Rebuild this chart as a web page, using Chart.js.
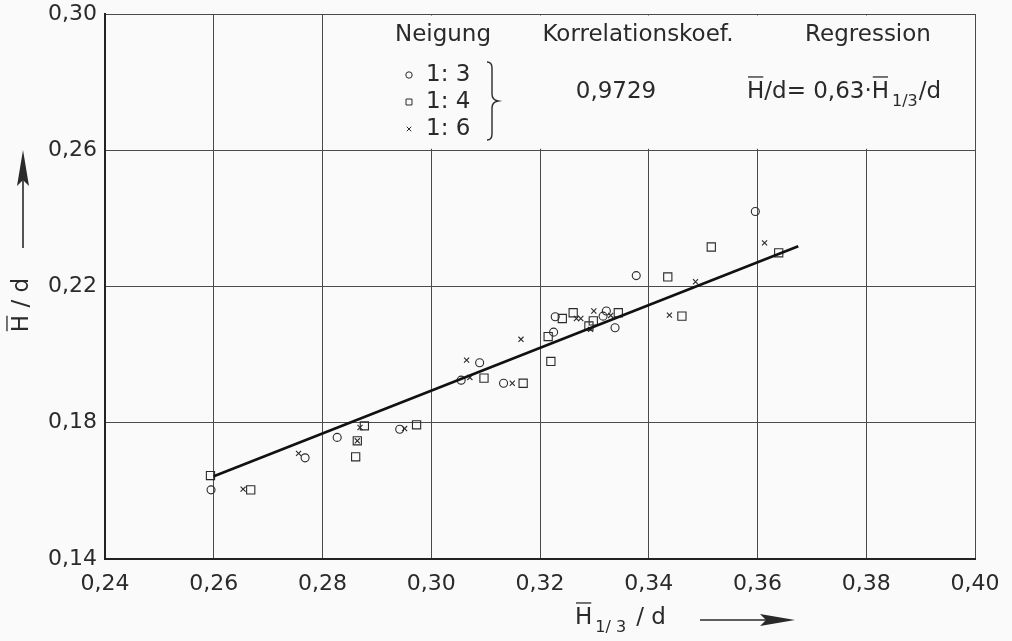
<!DOCTYPE html>
<html lang="de">
<head>
<meta charset="UTF-8">
<title>Mittlere Wellenhöhe</title>
<script src="https://cdn.jsdelivr.net/npm/chart.js"></script>
<style>
    html, body { margin: 0; padding: 0; background: #fafafa; }
    canvas { display: block; }
</style>
</head>
<body>
<canvas id="chart" width="1012" height="641"></canvas>
<script>
// Achsen
const xTicks = [0.24, 0.26, 0.28, 0.30, 0.32, 0.34, 0.36, 0.38, 0.40];
const yTicks = [0.14, 0.18, 0.22, 0.26, 0.30];

// Neigung 1:3 (Kreise)
const slope13X = [0.2595, 0.2768, 0.2827, 0.2942, 0.3055, 0.3089, 0.3133, 0.3225, 0.3228, 0.3316, 0.3322, 0.3338, 0.3377, 0.3596];
const slope13Y = [0.1603, 0.1697, 0.1757, 0.1781, 0.1925, 0.1976, 0.1916, 0.2066, 0.2111, 0.2113, 0.2128, 0.2079, 0.2232, 0.2420];

// Neigung 1:4 (Quadrate)
const slope14X = [0.2594, 0.2668, 0.2861, 0.2864, 0.2877, 0.2973, 0.3097, 0.3169, 0.3215, 0.3220, 0.3241, 0.3261, 0.3290, 0.3298, 0.3344, 0.3435, 0.3461, 0.3515, 0.3639];
const slope14Y = [0.1645, 0.1603, 0.1700, 0.1747, 0.1791, 0.1794, 0.1931, 0.1916, 0.2053, 0.1980, 0.2106, 0.2123, 0.2084, 0.2099, 0.2123, 0.2228, 0.2113, 0.2316, 0.2299];

// Neigung 1:6 (Kreuze)
const slope16X = [0.2654, 0.2756, 0.2864, 0.2869, 0.2951, 0.3065, 0.3071, 0.3149, 0.3165, 0.3267, 0.3275, 0.3293, 0.3299, 0.3330, 0.3438, 0.3486, 0.3613];
const slope16Y = [0.1605, 0.1710, 0.1747, 0.1786, 0.1783, 0.1984, 0.1933, 0.1916, 0.2045, 0.2106, 0.2106, 0.2074, 0.2128, 0.2115, 0.2116, 0.2214, 0.2328];

const regX = [0.260, 0.3675];
const regY = [0.1643, 0.2318];

const legendLabels = ['1: 3', '1: 4', '1: 6'];
const legendStyles = ['circle', 'rect', 'crossRot'];
const correlation = '0,9729';

const FONT = '"DejaVu Sans", sans-serif';
const INK = '#2a2a2a';
const PAPER = '#fafafa';

const toPoints = (xs, ys) => xs.map((x, i) => ({ x: x, y: ys[i] }));
const fmt = (v) => v.toFixed(2).replace('.', ',');

// Text mit Überstrich über dem ersten Buchstaben
function barText(ctx, text, x, y) {
    ctx.fillText(text, x, y);
    const w = ctx.measureText(text[0]).width;
    const m = ctx.measureText('H');
    const top = y - m.actualBoundingBoxAscent - 4;
    ctx.beginPath();
    ctx.moveTo(x + 1, top);
    ctx.lineTo(x + w - 1, top);
    ctx.stroke();
    return ctx.measureText(text).width;
}

const paperDecor = {
    id: 'paperDecor',
    beforeDatasetsDraw(chart) {
        const { ctx, scales: { x, y } } = chart;
        // Legendenfeld ohne Gitter
        ctx.save();
        ctx.fillStyle = PAPER;
        const l = x.getPixelForValue(0.28) + 1.5;
        const r = x.getPixelForValue(0.40) - 1.5;
        const t = y.getPixelForValue(0.30) + 1.5;
        const b = y.getPixelForValue(0.26) - 1.5;
        ctx.fillRect(l, t, r - l, b - t);
        ctx.restore();
    },
    afterDraw(chart) {
        const ctx = chart.ctx;
        ctx.save();
        ctx.fillStyle = INK;
        ctx.strokeStyle = INK;
        ctx.lineWidth = 1.3;
        ctx.textBaseline = 'middle';

        // Legendenkopf
        ctx.font = '23px ' + FONT;
        ctx.textAlign = 'center';
        ctx.fillText('Neigung', 443, 35);
        ctx.fillText('Korrelationskoef.', 638, 35);
        ctx.fillText('Regression', 868, 35);
        ctx.fillText(correlation, 616, 92);

        // Legendeneinträge
        ctx.textAlign = 'left';
        legendLabels.forEach((lab, i) => {
            const yy = 75 + i * 27;
            ctx.save();
            ctx.fillStyle = PAPER;
            ctx.lineWidth = 1;
            Chart.helpers.drawPoint(ctx, { pointStyle: legendStyles[i], radius: legendStyles[i] === 'rect' ? 4.2 : 3.2, rotation: 0, borderWidth: 1 }, 409, yy);
            ctx.restore();
            ctx.fillText(lab, 426, yy);
        });

        // Klammer
        ctx.lineWidth = 1.4;
        ctx.beginPath();
        ctx.moveTo(487, 62);
        ctx.quadraticCurveTo(492, 62, 492, 68);
        ctx.lineTo(492, 94);
        ctx.quadraticCurveTo(492, 100, 498, 101);
        ctx.quadraticCurveTo(492, 102, 492, 108);
        ctx.lineTo(492, 134);
        ctx.quadraticCurveTo(492, 140, 487, 140);
        ctx.stroke();

        // Regressionsformel
        ctx.font = '23px ' + FONT;
        let px = 747;
        ctx.lineWidth = 1.3;
        px += barText(ctx, 'H/d= 0,63·', px, 92);
        px += barText(ctx, 'H', px, 92) + 3;
        ctx.font = '16px ' + FONT;
        ctx.fillText('1/3', px, 102);
        px += ctx.measureText('1/3').width + 1;
        ctx.font = '23px ' + FONT;
        ctx.fillText('/d', px, 92);

        // x-Achsentitel
        ctx.font = '23px ' + FONT;
        px = 575;
        px += barText(ctx, 'H', px, 618) + 3;
        ctx.font = '16px ' + FONT;
        ctx.fillText('1/ 3', px, 628);
        px += ctx.measureText('1/ 3').width + 10;
        ctx.font = '23px ' + FONT;
        ctx.fillText('/ d', px, 618);
        ctx.lineWidth = 1.6;
        ctx.beginPath();
        ctx.moveTo(700, 620);
        ctx.lineTo(770, 620);
        ctx.stroke();
        ctx.beginPath();
        ctx.moveTo(795, 620);
        ctx.lineTo(760, 614);
        ctx.lineTo(766, 620);
        ctx.lineTo(760, 626);
        ctx.closePath();
        ctx.fill();

        // y-Achsentitel
        ctx.save();
        ctx.translate(22, 305);
        ctx.rotate(-Math.PI / 2);
        ctx.font = '23px ' + FONT;
        const tw = ctx.measureText('H / d').width;
        ctx.textAlign = 'left';
        ctx.lineWidth = 1.3;
        barText(ctx, 'H / d', -tw / 2, 0);
        ctx.restore();
        ctx.lineWidth = 1.6;
        ctx.beginPath();
        ctx.moveTo(23, 248);
        ctx.lineTo(23, 180);
        ctx.stroke();
        ctx.beginPath();
        ctx.moveTo(23, 150);
        ctx.lineTo(17, 186);
        ctx.lineTo(23, 180);
        ctx.lineTo(29, 186);
        ctx.closePath();
        ctx.fill();

        ctx.restore();
    }
};

const markerBase = {
    backgroundColor: 'rgba(0,0,0,0)',
    borderColor: INK,
    pointBorderWidth: 1.1,
    showLine: false
};

new Chart(document.getElementById('chart'), {
    type: 'scatter',
    data: {
        datasets: [
            {
                label: 'Regression',
                data: toPoints(regX, regY),
                showLine: true,
                borderColor: '#111',
                borderWidth: 2.6,
                pointRadius: 0,
                order: 0
            },
            Object.assign({ label: '1:3', data: toPoints(slope13X, slope13Y), pointStyle: 'circle', pointRadius: 4 }, markerBase),
            Object.assign({ label: '1:4', data: toPoints(slope14X, slope14Y), pointStyle: 'rect', pointRadius: 5.8 }, markerBase),
            Object.assign({ label: '1:6', data: toPoints(slope16X, slope16Y), pointStyle: 'crossRot', pointRadius: 3.6 }, markerBase)
        ]
    },
    options: {
        responsive: false,
        animation: false,
        devicePixelRatio: 1,
        layout: { padding: { left: 0, top: 0, right: 0, bottom: 0 } },
        plugins: { legend: { display: false }, tooltip: { enabled: false } },
        scales: {
            x: {
                type: 'linear',
                min: 0.24,
                max: 0.40,
                afterBuildTicks: (scale) => { scale.ticks = xTicks.map(v => ({ value: v })); },
                afterFit: (scale) => { scale.height = 82; scale.paddingLeft = 0; scale.paddingRight = 37; },
                grid: { color: '#4a4a4a', lineWidth: 1, drawTicks: false },
                border: { color: '#222', width: 2 },
                ticks: { padding: 12, color: INK, font: { family: FONT, size: 22 }, callback: (v) => fmt(v) }
            },
            y: {
                type: 'linear',
                min: 0.14,
                max: 0.30,
                afterBuildTicks: (scale) => { scale.ticks = yTicks.map(v => ({ value: v })); },
                afterFit: (scale) => { scale.width = 105; scale.paddingTop = 14; scale.paddingBottom = 0; },
                grid: { color: '#4a4a4a', lineWidth: 1, drawTicks: false },
                border: { color: '#222', width: 2 },
                ticks: { padding: 8, color: INK, font: { family: FONT, size: 22 }, callback: (v) => fmt(v) }
            }
        }
    },
    plugins: [paperDecor]
});
</script>
</body>
</html>
